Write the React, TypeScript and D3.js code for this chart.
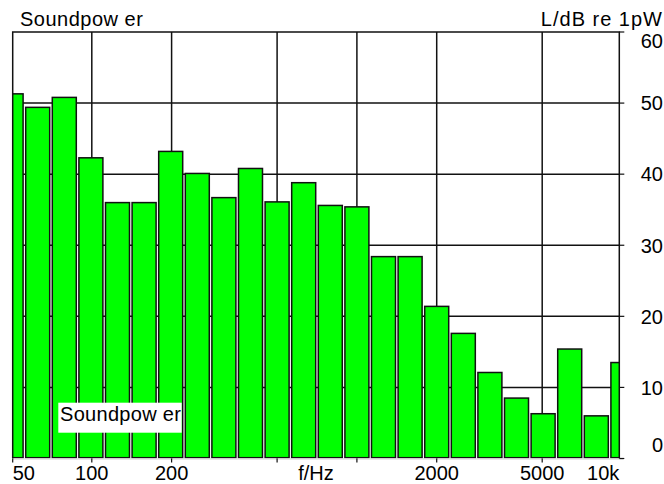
import React, { useEffect, useRef } from "react";
import * as d3 from "d3";

// third-octave bands, nominal centre frequencies (Hz)
const bands: number[] = [
  50, 63, 80, 100, 125, 160, 200, 250, 315, 400, 500, 630, 800, 1000, 1250,
  1600, 2000, 2500, 3150, 4000, 5000, 6300, 8000, 10000,
];
// sound power level per band, dB re 1pW
const levels: number[] = [
  51.3, 49.4, 50.8, 42.3, 36.0, 36.0, 43.2, 40.1, 36.7, 40.8, 36.1, 38.8, 35.6,
  35.4, 28.4, 28.4, 21.4, 17.6, 12.1, 8.5, 6.3, 15.4, 6.0, 13.5,
];
const gridFreqs: number[] = [100, 200, 500, 1000, 2000, 5000];
const xTickFreqs: number[] = [50, 100, 200, 500, 1000, 2000, 5000];
const xLabelFreqs: number[] = [50, 100, 200, 2000, 5000, 10000];
const xLabelTexts: string[] = ["50", "100", "200", "2000", "5000", "10k"];
const yTicks: number[] = [0, 10, 20, 30, 40, 50, 60];

const FONT = "'Liberation Sans', Arial, sans-serif";

const App: React.FC = () => {
  const svgRef = useRef<SVGSVGElement>(null);

  useEffect(() => {
    if (!svgRef.current) return;
    const width = 664;
    const height = 484;
    const frame = { left: 12.7, right: 619.3, top: 32, bottom: 458.5 };

    const svg = d3.select(svgRef.current);
    svg.selectAll("*").remove();
    svg.attr("width", width).attr("height", height);

    const x = d3.scaleLog().domain([50, 10000]).range([12, 622]);
    const y = d3.scaleLinear().domain([0, 60]).range([frame.bottom, frame.top]);

    // exact third-octave centre from nominal value
    const exact = (f: number) =>
      1000 * Math.pow(2, Math.round(3 * Math.log2(f / 1000)) / 3);
    const half = Math.pow(2, 1 / 6);

    svg
      .append("defs")
      .append("clipPath")
      .attr("id", "plotclip")
      .append("rect")
      .attr("x", frame.left)
      .attr("y", 0)
      .attr("width", frame.right - frame.left)
      .attr("height", frame.bottom);

    // grid
    svg
      .append("g")
      .selectAll("line")
      .data(yTicks.filter((d) => d > 0 && d < 60))
      .join("line")
      .attr("x1", frame.left)
      .attr("x2", frame.right)
      .attr("y1", (d) => y(d))
      .attr("y2", (d) => y(d))
      .attr("stroke", "#111")
      .attr("stroke-width", 1.5);

    svg
      .append("g")
      .selectAll("line")
      .data(gridFreqs)
      .join("line")
      .attr("x1", (d) => x(d))
      .attr("x2", (d) => x(d))
      .attr("y1", frame.top)
      .attr("y2", frame.bottom)
      .attr("stroke", "#111")
      .attr("stroke-width", 1.5);

    // bars
    const inset = 1.3;
    svg
      .append("g")
      .attr("clip-path", "url(#plotclip)")
      .selectAll("rect")
      .data(bands)
      .join("rect")
      .attr("x", (d) => x(exact(d) / half) + inset)
      .attr("width", (d) => x(exact(d) * half) - x(exact(d) / half) - 2 * inset)
      .attr("y", (_, i) => y(levels[i]))
      .attr("height", (_, i) => y(0) - y(levels[i]) - 0.8)
      .attr("fill", "#00ff00")
      .attr("stroke", "#111")
      .attr("stroke-width", 1.5);

    // frame
    svg
      .append("path")
      .attr(
        "d",
        `M${frame.left},${frame.bottom}V${frame.top}H${frame.right}V${frame.bottom}`
      )
      .attr("fill", "none")
      .attr("stroke", "#111")
      .attr("stroke-width", 1.5);

    svg
      .append("line")
      .attr("x1", frame.left)
      .attr("x2", frame.right + 4)
      .attr("y1", frame.bottom + 0.5)
      .attr("y2", frame.bottom + 0.5)
      .attr("stroke", "#d0d0d0")
      .attr("stroke-width", 1);

    // x ticks
    svg
      .append("g")
      .selectAll("line")
      .data(xTickFreqs)
      .join("line")
      .attr("x1", (d) => Math.max(x(d), frame.left))
      .attr("x2", (d) => Math.max(x(d), frame.left))
      .attr("y1", frame.bottom)
      .attr("y2", frame.bottom + 4)
      .attr("stroke", "#111")
      .attr("stroke-width", 1.2);

    // y ticks (right)
    svg
      .append("g")
      .selectAll("line")
      .data(yTicks)
      .join("line")
      .attr("x1", frame.right)
      .attr("x2", frame.right + 5)
      .attr("y1", (d) => y(d))
      .attr("y2", (d) => y(d))
      .attr("stroke", "#111")
      .attr("stroke-width", 1.2);

    const textStyle = (sel: d3.Selection<any, any, any, any>) =>
      sel.attr("font-family", FONT).attr("font-size", 20).attr("fill", "#000");

    svg
      .append("g")
      .selectAll("text")
      .data(yTicks)
      .join("text")
      .attr("x", 663)
      .attr("y", (d) => Math.min(Math.max(y(d) + 7.3, 48), 452))
      .attr("text-anchor", "end")
      .text((d) => d)
      .call(textStyle);

    svg
      .append("g")
      .selectAll("text")
      .data(xLabelFreqs)
      .join("text")
      .attr("x", (d) =>
        Math.min(Math.max(x(d), frame.left), frame.right)
      )
      .attr("y", 480)
      .attr("text-anchor", (d) =>
        x(d) <= frame.left ? "start" : x(d) >= frame.right ? "end" : "middle"
      )
      .text((_, i) => xLabelTexts[i])
      .call(textStyle);

    svg
      .append("text")
      .attr("x", (frame.left + frame.right) / 2)
      .attr("y", 480)
      .attr("text-anchor", "middle")
      .text("f/Hz")
      .call(textStyle);

    svg
      .append("text")
      .attr("x", 20)
      .attr("y", 26)
      .attr("letter-spacing", 0.5)
      .text("Soundpow er")
      .call(textStyle);

    svg
      .append("text")
      .attr("x", 663)
      .attr("y", 26)
      .attr("text-anchor", "end")
      .attr("letter-spacing", 1)
      .text("L/dB re 1pW")
      .call(textStyle);

    // legend box
    const legend = svg.append("g");
    legend
      .append("rect")
      .attr("x", 58.3)
      .attr("y", 402.7)
      .attr("width", 123.4)
      .attr("height", 30)
      .attr("fill", "#fff");
    legend
      .append("text")
      .attr("x", 60)
      .attr("y", 421)
      .attr("letter-spacing", 0.3)
      .text("Soundpow er")
      .call(textStyle);
  }, []);

  return (
    <svg
      ref={svgRef}
      style={{ position: "absolute", left: 0, top: 0, display: "block" }}
    ></svg>
  );
};

export default App;
